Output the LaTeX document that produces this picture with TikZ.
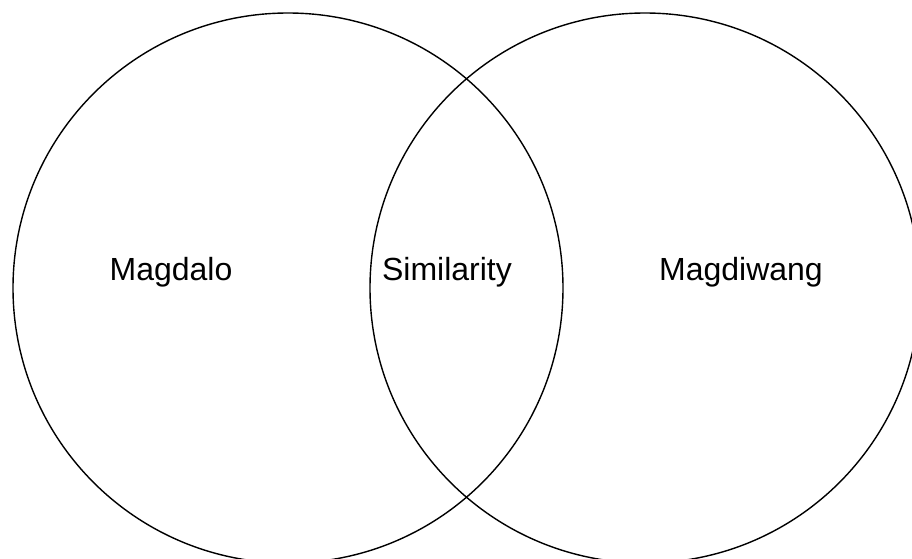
\documentclass[tikz,border=0pt]{standalone}
\usepackage{fontspec}
\setmainfont{Liberation Sans}
\usetikzlibrary{positioning}
\tikzset{
	venn/.style={draw, line width=0.7pt, shape=circle, minimum size=275pt, inner sep=0pt},
	setname/.style={font=\fontsize{16}{19}\selectfont, anchor=base, inner sep=0pt}
}
\begin{document}
\begin{tikzpicture}[x=0.5pt, y=-0.5pt]
	\useasboundingbox (0,0) rectangle (912,558);
	\clip (0,0) rectangle (912,558);
	\node[venn] (magdalo) at (288,288) {};
	\node[venn] (magdiwang) at (645,288) {};
	\node[setname] (lefttext) at (171,280) {Magdalo};
	\node[setname] (midtext) at (447,280) {Similarity};
	\node[setname] (righttext) at (741,280) {Magdiwang};
\end{tikzpicture}
\end{document}
